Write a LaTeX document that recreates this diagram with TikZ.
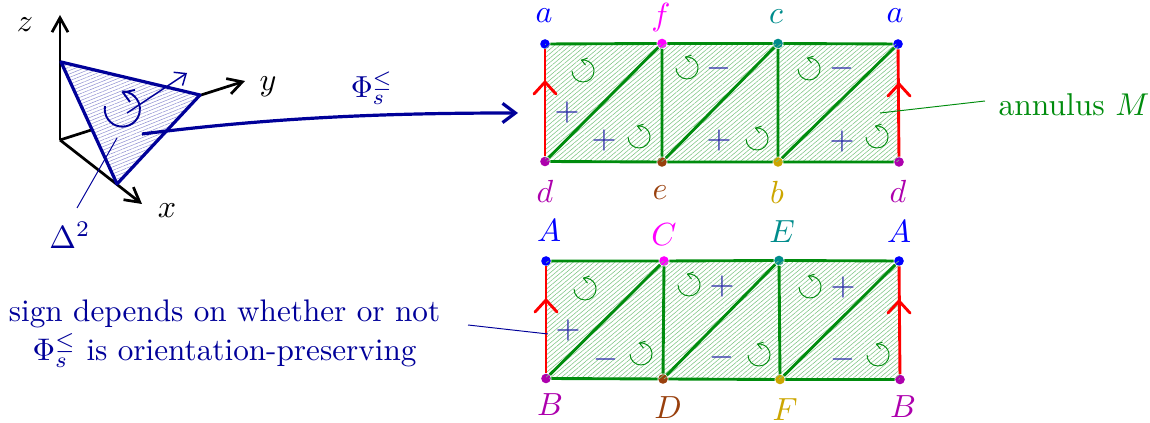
\documentclass[tikz,border=0pt]{standalone}
\usetikzlibrary{arrows.meta,patterns.meta}
\definecolor{navy}{rgb}{0,0,0.6}
\definecolor{grn}{rgb}{0,0.55,0.05}
\definecolor{ptb}{rgb}{0,0,1}
\definecolor{ptf}{rgb}{1,0,1}
\definecolor{ptc}{rgb}{0,0.55,0.55}
\definecolor{ptd}{rgb}{0.68,0,0.68}
\definecolor{pte}{rgb}{0.6,0.25,0.05}
\definecolor{ptg}{rgb}{0.8,0.65,0}
\tikzset{
 x=0.3125pt,y=-0.3125pt,
 axis/.style={black,line width=0.85pt,-{Straight Barb[length=4.5pt,width=5pt,line width=0.85pt]}},
 triedge/.style={navy,line width=1pt,line join=round},
 edge/.style={grn,line width=0.9pt},
 seam/.style={red,line width=0.9pt},
 thinlead/.style={navy,line width=0.3pt},
 greenlead/.style={grn,line width=0.3pt},
 hatchgreen/.style={pattern={Lines[angle=40,distance=1.05pt,line width=0.18pt]},pattern color=grn!50},
 hatchblue/.style={pattern={Lines[angle=22,distance=1pt,line width=0.15pt]},pattern color=navy!45},
 vtx/.style={circle,fill=#1,inner sep=0pt,minimum size=3pt},
 sgn/.style={navy!85,inner sep=0pt},
 lab/.style={inner sep=0pt},
}
\newcommand{\ccw}[2]{\begin{scope}[shift={(#1,#2)}]
\draw[grn,line width=0.3pt] (-11,0) arc[start angle=180,end angle=458,radius=3.44pt];
\draw[grn,line width=0.3pt] (4.5,-12.9) -- (-1.5,-10.9) -- (2.5,-5.9);
\end{scope}}
\newcommand{\seamhead}[2]{\draw[seam,line cap=round] (#1,#2) ++(-11,12) -- (#1,#2) -- ++(11,12);}
\begin{document}
\begin{tikzpicture}
\useasboundingbox (0,0) rectangle (1150,423);
% axes
\coordinate (O) at (60,140);
\coordinate (Zt) at (60,15);
\coordinate (Yt) at (245,81);
\coordinate (Xt) at (142,204);
\draw[axis] (O) -- (Zt);
\draw[axis] (O) -- (Yt);
\draw[axis] (O) -- (Xt);
% triangle
\coordinate (T1) at (61,62);
\coordinate (T2) at (200,95);
\coordinate (T3) at (117,184);
\fill[white] (T1) -- (T2) -- (T3) -- cycle;
\fill[hatchblue] (T1) -- (T2) -- (T3) -- cycle;
\draw[triedge] (T1) -- (T2) -- (T3) -- cycle;
\coordinate (N0) at (127,113);
\coordinate (N1) at (187,73);
\draw[navy,line width=0.45pt,-{Straight Barb[length=3pt,width=5pt,line width=0.45pt]}] (N0) -- (N1);
\begin{scope}[shift={(122,109)}]
\draw[navy,line width=0.6pt] (-17,-3) arc[start angle=170,end angle=450,radius=5.5pt];
\draw[navy,line width=0.6pt] (13,-19) -- (1,-16.5) -- (8,-7);
\end{scope}
\node[lab] (lz) at (25,25) {$z$};
\node[lab] (ly) at (268,87) {$y$};
\node[lab] (lx) at (167,211) {$x$};
\node[lab,navy] (delta) at (70,235) {$\Delta^2$};
\coordinate (D1) at (117,138);
\coordinate (D2) at (77,208);
\draw[thinlead] (D1) -- (D2);
% map arrow
\coordinate (M0) at (142,134);
\coordinate (M1) at (518,113);
\draw[navy,line width=1pt,-{Straight Barb[length=4pt,width=6pt,line width=1pt]}] (M0) .. controls (270,118) and (380,113) .. (M1);
\node[lab,navy,scale=0.95] (phi) at (372,88) {$\Phi_s^{\leq}$};
% top annulus
\node[vtx=ptb] (a1) at (545,44) {};
\node[vtx=ptf] (f) at (662,43.5) {};
\node[vtx=ptc] (c) at (778,43.5) {};
\node[vtx=ptb] (a2) at (898,44) {};
\node[vtx=ptd] (d1) at (545,161.5) {};
\node[vtx=pte] (e) at (662,162) {};
\node[vtx=ptg] (b) at (778,162) {};
\node[vtx=ptd] (d2) at (899,162) {};
\fill[hatchgreen] (a1.center) -- (a2.center) -- (d2.center) -- (d1.center) -- cycle;
\draw[edge] (a1) -- (f) -- (c) -- (a2);
\draw[edge] (d1) -- (e) -- (b) -- (d2);
\draw[edge] (d1) -- (f) -- (e) -- (c) -- (b) -- (a2);
\draw[seam] (d1) -- (a1);
\draw[seam] (d2) -- (a2);
\seamhead{545}{82}
\seamhead{899}{84}
\node[lab,text=ptb] (la1) at (544,16) {$a$};
\node[lab,text=ptf] (lf) at (661,18) {$f$};
\node[lab,text=ptc] (lc) at (776,17) {$c$};
\node[lab,text=ptb] (la2) at (895,16) {$a$};
\node[lab,text=ptd] (ld1) at (545,191) {$d$};
\node[lab,text=pte] (le) at (660,193) {$e$};
\node[lab,text=ptg] (lb) at (777,192) {$b$};
\node[lab,text=ptd] (ld2) at (898,191) {$d$};
\node[sgn] at (567,113) {$+$};
\node[sgn] at (604,141) {$+$};
\node[sgn] at (719,69) {$-$};
\node[sgn] at (719,141) {$+$};
\node[sgn] at (842,69) {$-$};
\node[sgn] at (842,142) {$+$};
\ccw{583}{71}
\ccw{639}{137}
\ccw{687}{68}
\ccw{757}{139}
\ccw{809}{69}
\ccw{877}{137}
% bottom annulus
\node[vtx=ptb] (A1) at (546,261) {};
\node[vtx=ptf] (C) at (664,261) {};
\node[vtx=ptc] (E) at (779,260.5) {};
\node[vtx=ptb] (A2) at (899,261) {};
\node[vtx=ptd] (B1) at (546,378.5) {};
\node[vtx=pte] (D) at (663,379) {};
\node[vtx=ptg] (F) at (780,379.5) {};
\node[vtx=ptd] (B2) at (900,379.5) {};
\fill[hatchgreen] (A1.center) -- (A2.center) -- (B2.center) -- (B1.center) -- cycle;
\draw[edge] (A1) -- (C) -- (E) -- (A2);
\draw[edge] (B1) -- (D) -- (F) -- (B2);
\draw[edge] (B1) -- (C) -- (D) -- (E) -- (F) -- (A2);
\draw[seam] (B1) -- (A1);
\draw[seam] (B2) -- (A2);
\seamhead{546}{300}
\seamhead{899}{301}
\node[lab,text=ptb] (lA1) at (549,231) {$A$};
\node[lab,text=ptf] (lC) at (664,235) {$C$};
\node[lab,text=ptc] (lE) at (782,232) {$E$};
\node[lab,text=ptb] (lA2) at (899,232) {$A$};
\node[lab,text=ptd] (lB1) at (550,405) {$B$};
\node[lab,text=pte] (lD) at (668,408) {$D$};
\node[lab,text=ptg] (lF) at (785,410) {$F$};
\node[lab,text=ptd] (lB2) at (903,407) {$B$};
\node[sgn] at (568,331) {$+$};
\node[sgn] at (606,360) {$-$};
\node[sgn] at (722,287) {$+$};
\node[sgn] at (722,358) {$-$};
\node[sgn] at (843,288) {$+$};
\node[sgn] at (843,360) {$-$};
\ccw{585}{289}
\ccw{641}{354}
\ccw{689}{285}
\ccw{759}{355}
\ccw{810}{287}
\ccw{878}{355}
% labels
\node[lab,text=grn,scale=0.985] (ann) at (1074,105) {annulus $M$};
\coordinate (AL) at (880,113);
\coordinate (AR) at (985,101);
\draw[greenlead] (AL) -- (AR);
\node[lab,text=navy,align=center,scale=0.975] (sign) at (224.5,334) {sign depends on whether or not\\[0.3pt]$\Phi_s^{\leq}$ is orientation-preserving};
\coordinate (SL) at (468,325);
\coordinate (SR) at (548,334);
\draw[thinlead] (SL) -- (SR);
\end{tikzpicture}
\end{document}
